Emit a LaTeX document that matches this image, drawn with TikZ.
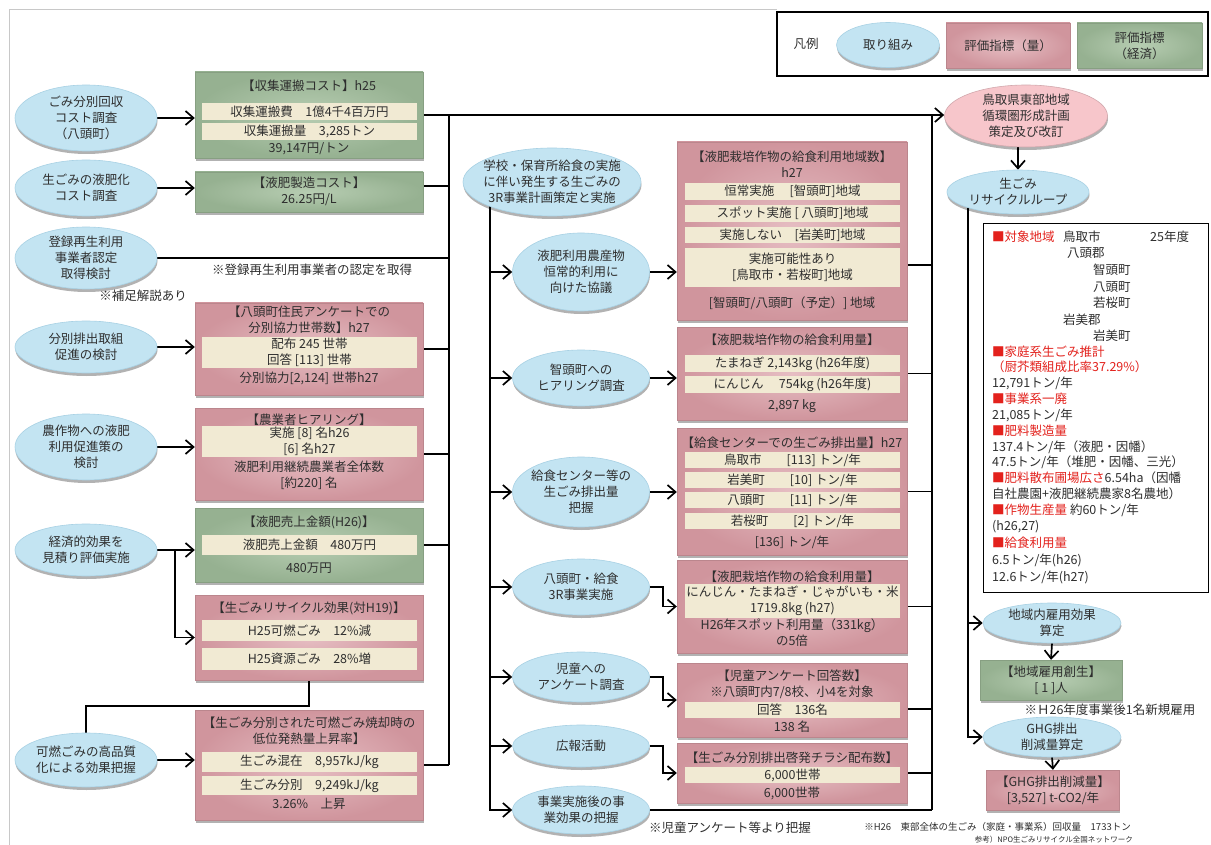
\documentclass[tikz,border=0pt]{standalone}
\usepackage{fontspec}
\setmainfont{Noto Sans CJK JP}
\usetikzlibrary{shapes.geometric,arrows.meta,shadows,calc}

\definecolor{actfill}{HTML}{C3E4F2}
\definecolor{actedge}{HTML}{A8D1E4}
\definecolor{qin}{HTML}{E6BEC3}
\definecolor{qout}{HTML}{D0959D}
\definecolor{ein}{HTML}{B7CDB2}
\definecolor{eout}{HTML}{96B191}
\definecolor{barfill}{HTML}{F1EAD3}
\definecolor{planfill}{HTML}{F7C6CB}
\definecolor{ink}{HTML}{2E2E2E}
\definecolor{mark}{HTML}{E3211C}
\definecolor{framec}{HTML}{C8C8C8}

\pgfdeclarelayer{paper}
\pgfdeclarelayer{wires}
\pgfsetlayers{paper,wires,main}

\tikzset{
  txt/.style={font=\fontsize{12.5}{16}\selectfont, text=ink, align=center, inner sep=0pt},
  small/.style={font=\fontsize{9.5}{11}\selectfont, text=ink, inner sep=0pt},
  info/.style={txt, anchor=west, align=left},
  shade/.style={drop shadow={shadow xshift=0.5pt, shadow yshift=-3pt, opacity=0.3, fill=black}},
  act/.style={txt, ellipse, fill=actfill, draw=actedge, line width=0.6pt, inner xsep=-4pt, inner ysep=0pt, shade},
  plan/.style={act, fill=planfill, draw=planfill!85!black},
  qbox/.style={rectangle, inner color=qin, outer color=qout, draw=qout!90!black, line width=0.4pt, inner sep=0pt, shade},
  ebox/.style={rectangle, inner color=ein, outer color=eout, draw=eout!90!black, line width=0.4pt, inner sep=0pt, shade},
  bar/.style={txt, rectangle, fill=barfill, minimum width=215pt},
  wire/.style={draw=black, line width=1.7pt},
  arr/.style={wire, -{Straight Barb[length=8pt,width=14pt]}},
}

\begin{document}
\begin{tikzpicture}[x=1pt,y=-1pt]
\useasboundingbox (0,0) rectangle (1211,845);
\begin{pgfonlayer}{paper}
  \fill[white] (0,0) rectangle (1211,845);
  \draw[framec, line width=1pt] (9,845) -- (9,10) -- (777,10);
\end{pgfonlayer}

% ---------- legend ----------
\node[draw, line width=1.4pt, minimum width=431pt, minimum height=64pt] (leg) at (992.5,44) {};
\node[txt] (leg-t) at (806,44) {凡例};
\node[act, minimum width=103pt, minimum height=45pt] (leg-a) at (888,45) {取り組み};
\node[qbox, txt, minimum width=124pt, minimum height=45pt] (leg-q) at (1008,45.5) {評価指標（量）};
\node[ebox, txt, minimum width=125pt, minimum height=45pt] (leg-e) at (1139.5,45.5) {評価指標\\（経済）};

% ---------- left actions ----------
\node[act, minimum width=142pt, minimum height=66pt] (E1) at (86,118) {ごみ分別回収\\コスト調査\\（八頭町）};
\node[act, minimum width=142pt, minimum height=56pt] (E2) at (86,188) {生ごみの液肥化\\コスト調査};
\node[act, minimum width=142pt, minimum height=62pt] (E3) at (86,258) {登録再生利用\\事業者認定\\取得検討};
\node[act, minimum width=142pt, minimum height=52pt] (E4) at (86,347) {分別排出取組\\促進の検討};
\node[act, minimum width=142pt, minimum height=66pt] (E5) at (86,447) {農作物への液肥\\利用促進策の\\検討};
\node[act, minimum width=142pt, minimum height=52pt] (E6) at (86,550) {経済的効果を\\見積り評価実施};
\node[act, minimum width=142pt, minimum height=54pt] (E7) at (86,760) {可燃ごみの高品質\\化による効果把握};
\node[txt] (n-reg) at (312,270) {※登録再生利用事業者の認定を取得};
\node[txt] (n-sup) at (143,296) {※補足解説あり};
\coordinate (fork) at (175,0);

% ---------- left indicators ----------
\node[ebox, minimum width=228pt, minimum height=86pt] (A) at (309,115) {};
\node[txt] (A-t) at (309,86) {【収集運搬コスト】h25};
\node[bar, minimum height=17pt] (A-b1) at (309.5,111.5) {収集運搬費　1億4千4百万円};
\node[bar, minimum height=17pt] (A-b2) at (309.5,131.5) {収集運搬量　3,285トン};
\node[txt] (A-v) at (309,149) {39,147円/トン};

\node[ebox, minimum width=228pt, minimum height=40pt] (B) at (309,192) {};
\node[txt] (B-t) at (309,191) {【液肥製造コスト】\\26.25円/L};

\node[qbox, minimum width=228pt, minimum height=92pt] (C) at (309,349) {};
\node[txt] (C-t) at (309,320) {【八頭町住民アンケートでの\\分別協力世帯数】h27};
\node[bar, minimum height=31pt] (C-b) at (309.5,352.5) {配布 245 世帯\\回答 [113] 世帯};
\node[txt] (C-v) at (309,378) {分別協力[2,124] 世帯h27};

\node[qbox, minimum width=228pt, minimum height=92pt] (D) at (309,454) {};
\node[txt] (D-t) at (309,420) {【農業者ヒアリング】};
\node[bar, minimum height=31pt] (D-b) at (309.5,441.5) {実施 [8] 名h26\\{}[6] 名h27};
\node[txt] (D-v) at (309,475) {液肥利用継続農業者全体数\\{}[約220] 名};

\node[ebox, minimum width=228pt, minimum height=74pt] (E) at (309,545) {};
\node[txt] (E-t) at (309,522) {【液肥売上金額(H26)】};
\node[bar, minimum height=20pt] (E-b) at (309.5,545) {液肥売上金額　480万円};
\node[txt] (E-v) at (309,568) {480万円};

\node[qbox, minimum width=228pt, minimum height=85pt] (F) at (309,637.5) {};
\node[txt] (F-t) at (309,608) {【生ごみリサイクル効果(対H19)】};
\node[bar, minimum height=21pt] (F-b1) at (309.5,630.5) {H25可燃ごみ　12\%減};
\node[bar, minimum height=22pt] (F-b2) at (309.5,659) {H25資源ごみ　28\%増};

\node[qbox, minimum width=228pt, minimum height=110pt] (G) at (309,765) {};
\node[txt] (G-t) at (309,731) {【生ごみ分別された可燃ごみ焼却時の\\低位発熱量上昇率】};
\node[bar, minimum height=20pt] (G-b1) at (309.5,762) {生ごみ混在　8,957kJ/kg};
\node[bar, minimum height=19pt] (G-b2) at (309.5,785.5) {生ごみ分別　9,249kJ/kg};
\node[txt] (G-v) at (309,804) {3.26\%　上昇};

% ---------- school lunch programme ----------
\node[act, minimum width=178pt, minimum height=68pt, inner xsep=-6pt] (S) at (552,182) {学校・保育所給食の実施\\に伴い発生する生ごみの\\3R事業計画策定と実施};
\node[act, minimum width=137pt, minimum height=78pt] (Sa) at (581,272) {液肥利用農産物\\恒常的利用に\\向けた協議};
\node[act, minimum width=137pt, minimum height=56pt] (Sb) at (581,378) {智頭町への\\ヒアリング調査};
\node[act, minimum width=137pt, minimum height=70pt] (Sc) at (581,492) {給食センター等の\\生ごみ排出量\\把握};
\node[act, minimum width=137pt, minimum height=56pt] (Sd) at (581,587) {八頭町・給食\\3R事業実施};
\node[act, minimum width=137pt, minimum height=50pt] (Se) at (581,677) {児童への\\アンケート調査};
\node[act, minimum width=137pt, minimum height=42pt] (Sf) at (581,746) {広報活動};
\node[act, minimum width=137pt, minimum height=48pt] (Sg) at (581,810) {事業実施後の事\\業効果の把握};
\node[txt] (n-kid) at (730,828) {※児童アンケート等より把握};

% ---------- middle indicators ----------
\node[qbox, minimum width=230pt, minimum height=178pt] (M1) at (792,231) {};
\node[txt] (M1-t) at (792,164.5) {【液肥栽培作物の給食利用地域数】\\h27};
\node[bar, minimum height=17pt] (M1-b1) at (792.5,191.5) {恒常実施　 [智頭町]地域};
\node[bar, minimum height=17pt] (M1-b2) at (792.5,213.5) {スポット実施 [ 八頭町]地域};
\node[bar, minimum height=16pt] (M1-b3) at (792.5,235) {実施しない　[岩美町]地域};
\node[bar, minimum height=39pt] (M1-b4) at (792.5,267.5) {実施可能性あり\\{}[鳥取市・若桜町]地域};
\node[txt] (M1-v) at (792,303) {[智頭町/八頭町（予定）] 地域};

\node[qbox, minimum width=230pt, minimum height=93pt] (M2) at (792,373.5) {};
\node[txt] (M2-t) at (792,340) {【液肥栽培作物の給食利用量】};
\node[bar, minimum height=17pt] (M2-b1) at (792.5,363.5) {たまねぎ 2,143kg (h26年度)};
\node[bar, minimum height=17pt] (M2-b2) at (792.5,384.5) {にんじん　 754kg (h26年度)};
\node[txt] (M2-v) at (792,406) {2,897 kg};

\node[qbox, minimum width=230pt, minimum height=127pt] (M3) at (792,491.5) {};
\node[txt] (M3-t) at (792,443) {【給食センターでの生ごみ排出量】h27};
\node[bar, minimum height=16pt] (M3-b1) at (792.5,460) {鳥取市　　[113] トン/年};
\node[bar, minimum height=16pt] (M3-b2) at (792.5,480) {岩美町　　[10] トン/年};
\node[bar, minimum height=16pt] (M3-b3) at (792.5,500) {八頭町　　[11] トン/年};
\node[bar, minimum height=16pt] (M3-b4) at (792.5,521) {若桜町　　[2] トン/年};
\node[txt] (M3-v) at (792,542) {[136] トン/年};

\node[qbox, minimum width=230pt, minimum height=93pt] (M4) at (792,606.5) {};
\node[txt] (M4-t) at (792,577) {【液肥栽培作物の給食利用量】};
\node[bar, minimum height=34pt] (M4-b) at (792.5,601) {にんじん・たまねぎ・じゃがいも・米\\1719.8kg (h27)};
\node[txt] (M4-v) at (792,632.5) {H26年スポット利用量（331kg）\\の5倍};

\node[qbox, minimum width=230pt, minimum height=74pt] (M5) at (792,700) {};
\node[txt] (M5-t) at (792,684.5) {【児童アンケート回答数】\\※八頭町内7/8校、小4を対象};
\node[bar, minimum height=16pt] (M5-b) at (792.5,710) {回答　136名};
\node[txt] (M5-v) at (792,727) {138 名};

\node[qbox, minimum width=230pt, minimum height=60pt] (M6) at (792,773) {};
\node[txt] (M6-t) at (792,758) {【生ごみ分別排出啓発チラシ配布数】};
\node[bar, minimum height=16pt] (M6-b) at (792.5,775) {6,000世帯};
\node[txt] (M6-v) at (792,793) {6,000世帯};

% ---------- right column ----------
\node[plan, minimum width=163pt, minimum height=62pt] (P) at (1026,116) {鳥取県東部地域\\循環圏形成計画\\策定及び改訂};
\node[act, minimum width=142pt, minimum height=44pt] (L) at (1018,192) {生ごみ\\リサイクルループ};

\node[draw, line width=0.8pt, minimum width=225pt, minimum height=369pt, inner sep=0pt] (info) at (1095.5,407.5) {};
\node[info, text=mark] (i1) at (992,237) {■対象地域};
\node[info] (i1b) at (1063,237) {鳥取市};
\node[info] (i1c) at (1150,237) {25年度};
\node[info] (i2) at (1067,253) {八頭郡};
\node[info] (i3) at (1093,270) {智頭町};
\node[info] (i4) at (1093,287) {八頭町};
\node[info] (i5) at (1093,303) {若桜町};
\node[info] (i6) at (1063,320) {岩美郡};
\node[info] (i7) at (1093,336) {岩美町};
\node[info, text=mark] (i8) at (992,352) {■家庭系生ごみ推計};
\node[info, text=mark] (i9) at (992,367) {（厨芥類組成比率37.29\%）};
\node[info] (i10) at (992,383) {12,791トン/年};
\node[info, text=mark] (i11) at (992,399) {■事業系一廃};
\node[info] (i12) at (992,415) {21,085トン/年};
\node[info, text=mark] (i13) at (992,431) {■肥料製造量};
\node[info] (i14) at (992,447) {137.4トン/年（液肥・因幡）};
\node[info] (i15) at (992,462) {47.5トン/年（堆肥・因幡、三光）};
\node[info] (i16) at (992,478) {{\color{mark}■肥料散布圃場広さ}6.54ha（因幡};
\node[info] (i17) at (992,494) {自社農園+液肥継続農家8名農地）};
\node[info] (i18) at (992,510) {{\color{mark}■作物生産量}\ 約60トン/年};
\node[info] (i19) at (992,527) {(h26,27)};
\node[info, text=mark] (i20) at (992,543) {■給食利用量};
\node[info] (i21) at (992,560) {6.5トン/年(h26)};
\node[info] (i22) at (992,577) {12.6トン/年(h27)};

\node[act, minimum width=138pt, minimum height=40pt] (R1) at (1052,623) {地域内雇用効果\\算定};
\node[ebox, txt, minimum width=142pt, minimum height=40pt] (J) at (1051,680) {【地域雇用創生】\\{}[ 1 ]人};
\node[txt] (n-job) at (1110,710) {※Ｈ26年度事業後1名新規雇用};
\node[act, minimum width=138pt, minimum height=40pt] (R2) at (1052,737) {GHG排出\\削減量算定};
\node[qbox, txt, minimum width=133pt, minimum height=40pt] (K) at (1053,790) {【GHG排出削減量】\\{}[3,527] t-CO2/年};
\node[small, anchor=east] (fn1) at (1131,827) {※H26　東部全体の生ごみ（家庭・事業系）回収量　1733トン};
\node[small, anchor=east, font=\fontsize{7.5}{9}\selectfont] (fn2) at (1133,840) {参考）NPO生ごみリサイクル全国ネットワーク};

% ---------- connectors ----------
\coordinate (lbus) at (449,0);
\coordinate (mbus) at (490,0);
\coordinate (rbus) at (932,0);
\coordinate (sbus) at (968,0);

\begin{pgfonlayer}{wires}
  % left column into the collecting line
  \draw[arr] (E1.east) -- (E1.east -| A.west);
  \draw[arr] (E2.east) -- (E2.east -| B.west);
  \draw[arr] (E4.east) -- (E4.east -| C.west);
  \draw[arr] (E5.east) -- (E5.east -| D.west);
  \draw[arr] (E6.east) -- (E6.east -| E.west);
  \draw[arr] (E6.east -| fork) |- (F.west);
  \draw[arr] (E7.east) -- (E7.east -| G.west);
  \draw[wire] (F.south) |- ($(E7.north)+(0,-27)$) -- (E7.north);

  \draw[arr] (A.east) -- (A.east -| P.west);
  \draw[wire] ([yshift=6pt]B.east) -- ([yshift=6pt]B.east -| lbus);
  \draw[wire] (E3.east) -- (E3.east -| lbus);
  \draw[wire] (C.east) -- (C.east -| lbus);
  \draw[wire] (D.east) -- (D.east -| lbus);
  \draw[wire] (E.east) -- (E.east -| lbus);
  \draw[wire] (G.east) -- (G.east -| lbus);
  \draw[wire] (A.east -| lbus) -- (G.east -| lbus);

  % school lunch branch
  \draw[arr] (S -| mbus) |- (Sg.west);
  \draw[arr] (Sa.west -| mbus) -- (Sa.west);
  \draw[arr] (Sb.west -| mbus) -- (Sb.west);
  \draw[arr] (Sc.west -| mbus) -- (Sc.west);
  \draw[arr] (Sd.west -| mbus) -- (Sd.west);
  \draw[arr] (Se.west -| mbus) -- (Se.west);
  \draw[arr] (Sf.west -| mbus) -- (Sf.west);
  \draw[arr] (Sa.east) -- (Sa.east -| M1.west);
  \draw[arr] (Sb.east) -- (Sb.east -| M2.west);
  \draw[arr] (Sc.east) -- (Sc.east -| M3.west);
  \draw[arr] (Sd.east) -- ++(13,0) |- (M4.west);
  \draw[arr] (Se.east) -- ++(13,0) |- (M5.west);
  \draw[arr] (Sf.east) -- ++(13,0) |- (M6.west);
  \draw[wire] (Sg.east) -- (Sg.east -| rbus);

  % right collecting line
  \draw[wire] ([yshift=-34pt]M1.east) -- ([yshift=-34pt]M1.east -| rbus);
  \draw[wire] (M2.east) -- (M2.east -| rbus);
  \draw[wire] (M3.east) -- (M3.east -| rbus);
  \draw[wire] (M4.east) -- (M4.east -| rbus);
  \draw[wire] ([yshift=-9pt]M5.east) -- ([yshift=-9pt]M5.east -| rbus);
  \draw[wire] (M6.east) -- (M6.east -| rbus);
  \draw[wire] (A.east -| rbus) -- (Sg.east -| rbus);

  % recycle loop
  \draw[arr] (P.south -| L) -- (L.north);
  \draw[arr] (L -| sbus) |- (R2.west);
  \draw[arr] (R1.west -| sbus) -- (R1.west);
  \draw[arr] (R1.south) -- (J.north);
  \draw[arr] (R2.south) -- (K.north);
\end{pgfonlayer}
\end{tikzpicture}
\end{document}
